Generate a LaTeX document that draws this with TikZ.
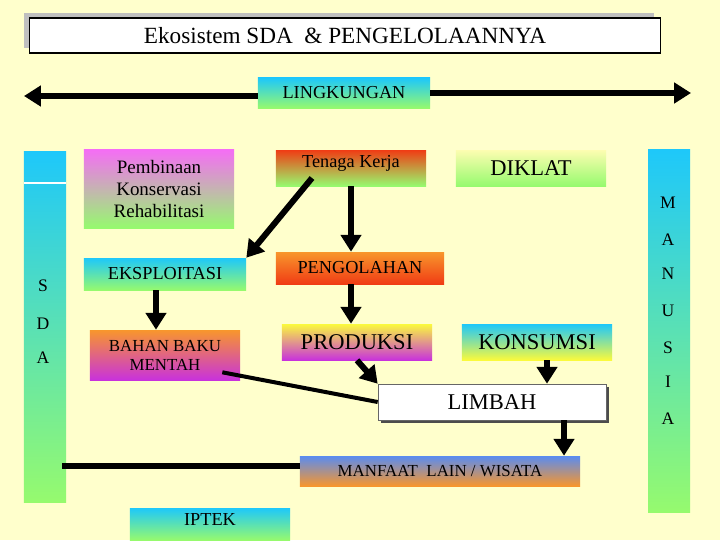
\documentclass[tikz,border=0pt]{standalone}
\usepackage{fontspec}
\setmainfont{Liberation Serif}
\usetikzlibrary{arrows.meta}
\definecolor{bg}{HTML}{FFFFCC}
\definecolor{cy}{HTML}{1EC8FA}
\definecolor{gr}{HTML}{96FA6E}
\definecolor{mg}{HTML}{F46EF4}
\definecolor{mg2}{HTML}{C832DC}
\definecolor{rd}{HTML}{F03C14}
\definecolor{og}{HTML}{F8962C}
\definecolor{yl}{HTML}{FAFA3C}
\definecolor{bl}{HTML}{5A8CF0}
\begin{document}
\begin{tikzpicture}[x=0.025cm,y=-0.025cm,
  box/.style={inner sep=1pt,align=center,font=\fontsize{13}{14.5}\selectfont},
  grad/.style n args={2}{box,top color=#1,bottom color=#2},
  big/.style={font=\fontsize{16}{17}\selectfont},
  arr/.style={line width=0.15cm,-{Triangle[length=0.42cm,width=0.5cm]}},
  bar/.style={line width=0.15cm},
  let/.style={font=\fontsize{12.5}{13}\selectfont}]
\path[use as bounding box,fill=bg] (0,0) rectangle (720,540);
\begin{scope}
\clip (0,0) rectangle (720,540);
% title
\node[fill=black!25,minimum width=15.75cm,minimum height=0.875cm] (tsh) at (339,30.5) {};
\node[fill=white,draw=black,thick,minimum width=15.75cm,minimum height=0.875cm,font=\fontsize{16.5}{18}\selectfont] (title) at (345,35.5) {Ekosistem SDA\ \ \& PENGELOLAANNYA};
% lingkungan
\node[grad={cy}{gr},minimum width=4.3cm,minimum height=0.75cm] (ling) at (344,93) {LINGKUNGAN};
\coordinate (lL) at (24,96);
\coordinate (lR) at (691,93);
\draw[arr] (ling.west|-lL) -- (lL);
\draw[arr] (ling.east|-lR) -- (lR);
% bars
\node[grad={cy}{gr},minimum width=1.05cm,minimum height=8.75cm] (sda) at (45,327) {};
\draw[white,thick] (24,183) -- (66,183);
\node[let] (s1) at (43,286) {S};
\node[let] (s2) at (43,324) {D};
\node[let] (s3) at (43,358) {A};
\node[grad={cy}{gr},minimum width=1.05cm,minimum height=9.05cm] (man) at (669,331) {};
\foreach \t/\y [count=\i] in {M/203,A/240,N/274,U/311,S/348,I/382,A/419}
  \node[let] (m\i) at (668,\y) {\t};
% boxes
\node[grad={mg}{gr},minimum width=3.75cm,minimum height=1.95cm,font=\fontsize{13.5}{15.5}\selectfont] (pem) at (159,189) {Pembinaan\\Konservasi\\Rehabilitasi};
\node[grad={rd}{gr},minimum width=3.75cm,minimum height=0.9cm,text depth=0.35cm] (ten) at (351,168) {Tenaga Kerja};
\node[grad={yl!40}{gr},big,minimum width=3.75cm,minimum height=0.9cm] (dik) at (531,168) {DIKLAT};
\node[grad={cy}{gr},minimum width=4.05cm,minimum height=0.8cm] (eks) at (165,274) {EKSPLOITASI};
\node[grad={og}{rd},minimum width=4.2cm,minimum height=0.8cm] (peng) at (360,268) {PENGOLAHAN};
\node[grad={og}{mg2},minimum width=3.75cm,minimum height=1.25cm,font=\fontsize{12}{13.5}\selectfont] (bah) at (165,355) {BAHAN BAKU\\MENTAH};
\node[grad={yl}{mg2},big,minimum width=3.75cm,minimum height=0.9cm] (prod) at (357,342) {PRODUKSI};
\node[grad={cy}{yl},big,minimum width=3.75cm,minimum height=0.9cm] (kons) at (537,342) {KONSUMSI};
\node[fill=black!70,minimum width=5.7cm,minimum height=0.9cm] (lsh) at (495,405) {};
\node[fill=white,draw=black!60,big,minimum width=5.7cm,minimum height=0.9cm] (lim) at (492,402) {LIMBAH};
\node[grad={bl}{og},minimum width=7cm,minimum height=0.75cm,font=\fontsize{12}{13}\selectfont] (manf) at (440,471) {MANFAAT\ \ LAIN / WISATA};
\node[grad={cy}{gr},minimum width=4cm,minimum height=0.8cm,text depth=0.2cm] (ipt) at (210,524) {IPTEK};
% connectors
\coordinate (tA) at (312,178);
\draw[arr] (tA) -- (eks.north east);
\draw[arr] (ten.south) -- (ten.south|-peng.north);
\draw[arr] (peng.south-|ten.south) -- (prod.north-|ten.south);
\draw[arr] (eks.south-|156,0) -- (bah.north-|156,0);
\draw[arr] (prod.south) -- (lim.north west);
\draw[line width=0.1cm] (bah.south east) ++(-18,-8) -- (lim.west);
\draw[arr] (kons.south-|547,0) -- (lim.north-|547,0);
\draw[arr] (lim.south-|564,0) -- (manf.north-|564,0);
\coordinate (mL) at (62,466);
\draw[bar] (mL) -- (manf.west|-mL);
\end{scope}
\end{tikzpicture}
\end{document}
